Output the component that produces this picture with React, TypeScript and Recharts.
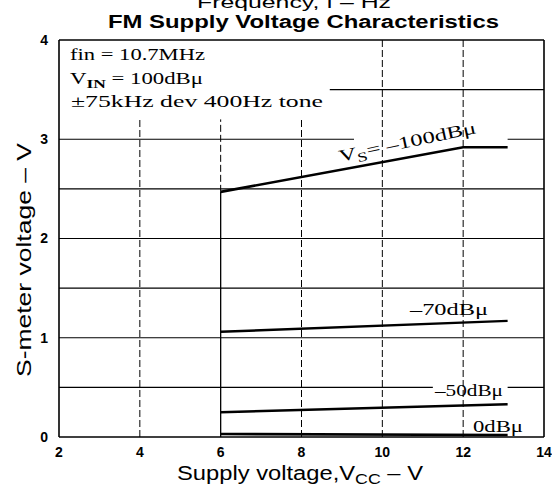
import { LineChart, Line, XAxis, YAxis, ReferenceLine } from 'recharts';

// supply voltage (V) and S-meter output (V) per input level
const vccBend = [6, 12, 13.1];
const sMeter100 = [2.47, 2.92, 2.92];
const vccSpan = [6, 13.1];
const sMeter70 = [1.06, 1.17];
const sMeter50 = [0.25, 0.33];
const sMeter0 = [0.03, 0.02];

const xTicks = [2, 4, 6, 8, 10, 12, 14];
const yTicks = [0, 1, 2, 3, 4];

const toPoints = (xs: number[], ys: number[]) => xs.map((x, i) => ({ x, y: ys[i] }));

// grid pieces, gaps left where the labels sit
const hGrid = [
  { y: 0.5, x1: 2, x2: 11.25 },
  { y: 0.5, x1: 13.1, x2: 14 },
  { y: 1, x1: 2, x2: 14 },
  { y: 1.5, x1: 2, x2: 14 },
  { y: 2, x1: 2, x2: 14 },
  { y: 2.5, x1: 2, x2: 14 },
  { y: 3, x1: 2, x2: 9.3 },
  { y: 3, x1: 13.1, x2: 14 },
  { y: 3.5, x1: 8.7, x2: 14 },
];
const vGrid = [
  { x: 4, y1: 0, y2: 3.2, dash: true },
  { x: 6, y1: 0, y2: 2.47, dash: false },
  { x: 6, y1: 2.47, y2: 3.2, dash: true },
  { x: 8, y1: 0, y2: 3.2, dash: true },
  { x: 10, y1: 0, y2: 4, dash: true },
  { x: 12, y1: 0, y2: 4, dash: true },
];

const sans = '"Liberation Sans", Arial, sans-serif';
const serif = '"Liberation Serif", "Times New Roman", serif';

export default function App() {
  const tickStyle = { fill: '#000', fontSize: 14, fontWeight: 700, fontFamily: sans };
  return (
    <div style={{ position: 'absolute', left: 0, top: 0, width: 552, height: 486, background: '#fff' }}>
      <LineChart width={552} height={486} margin={{ top: 40, right: 8, bottom: 0, left: 29 }}>
        <XAxis
          type="number"
          dataKey="x"
          domain={[2, 14]}
          ticks={xTicks}
          interval={0}
          height={49}
          tickLine={false}
          tickMargin={4}
          axisLine={{ stroke: '#000', strokeWidth: 1.6 }}
          tick={tickStyle}
        />
        <YAxis
          type="number"
          dataKey="y"
          domain={[0, 4]}
          ticks={yTicks}
          interval={0}
          width={30}
          tickLine={false}
          tickMargin={5}
          axisLine={{ stroke: '#000', strokeWidth: 1.6 }}
          tick={tickStyle}
        />
        <ReferenceLine y={4} stroke="#000" strokeWidth={1.6} />
        <ReferenceLine x={14} stroke="#000" strokeWidth={1.6} />
        {hGrid.map((g, i) => (
          <ReferenceLine key={'h' + i} segment={[{ x: g.x1, y: g.y }, { x: g.x2, y: g.y }]} stroke="#000" strokeWidth={1.2} />
        ))}
        {vGrid.map((g, i) => (
          <ReferenceLine
            key={'v' + i}
            segment={[{ x: g.x, y: g.y1 }, { x: g.x, y: g.y2 }]}
            stroke="#000"
            strokeWidth={g.dash ? 1 : 1.3}
            strokeDasharray={g.dash ? '7 3' : undefined}
          />
        ))}
        <Line data={toPoints(vccBend, sMeter100)} dataKey="y" stroke="#000" strokeWidth={2.6} dot={false} isAnimationActive={false} />
        <Line data={toPoints(vccSpan, sMeter70)} dataKey="y" stroke="#000" strokeWidth={2.4} dot={false} isAnimationActive={false} />
        <Line data={toPoints(vccSpan, sMeter50)} dataKey="y" stroke="#000" strokeWidth={2.4} dot={false} isAnimationActive={false} />
        <Line data={toPoints(vccSpan, sMeter0)} dataKey="y" stroke="#000" strokeWidth={2.6} dot={false} isAnimationActive={false} />
      </LineChart>

      <svg width={552} height={486} style={{ position: 'absolute', left: 0, top: 0, pointerEvents: 'none' }}>
        <text x={294} y={8} textAnchor="middle" fontFamily={sans} fontSize={17} textLength={194} lengthAdjust="spacingAndGlyphs">
          Frequency, f – Hz
        </text>
        <text x={108} y={28} fontFamily={sans} fontSize={18} fontWeight={700} textLength={391} lengthAdjust="spacingAndGlyphs">
          FM Supply Voltage Characteristics
        </text>

        <text x={177} y={480} fontFamily={sans} fontSize={20} textLength={246} lengthAdjust="spacingAndGlyphs">
          Supply voltage,V<tspan fontSize={15} dy={4}>CC</tspan><tspan dy={-4}> – V</tspan>
        </text>
        <text
          x={0}
          y={0}
          transform="translate(31,377) rotate(-90)"
          fontFamily={sans}
          fontSize={20}
          textLength={234}
          lengthAdjust="spacingAndGlyphs"
        >
          S-meter voltage – V
        </text>

        <g fontFamily={serif} fontSize={17} fill="#000">
          <text x={70} y={60} textLength={135} lengthAdjust="spacingAndGlyphs">fin = 10.7MHz</text>
          <text x={70} y={84} textLength={133} lengthAdjust="spacingAndGlyphs">
            V<tspan fontSize={13} fontWeight={700} dy={4}>IN</tspan><tspan dy={-4}> = 100dBμ</tspan>
          </text>
          <text x={71} y={107} textLength={252} lengthAdjust="spacingAndGlyphs">±75kHz dev 400Hz tone</text>
          <text x={0} y={0} transform="translate(340,162) rotate(-12)" textLength={140} lengthAdjust="spacingAndGlyphs">
            V<tspan fontSize={13} dy={4}>S</tspan><tspan dy={-4}>= –100dBμ</tspan>
          </text>
          <text x={410} y={315} textLength={78} lengthAdjust="spacingAndGlyphs">–70dBμ</text>
          <text x={435} y={396} textLength={68} lengthAdjust="spacingAndGlyphs">–50dBμ</text>
          <text x={473} y={432} textLength={50} lengthAdjust="spacingAndGlyphs">0dBμ</text>
        </g>
      </svg>
    </div>
  );
}
